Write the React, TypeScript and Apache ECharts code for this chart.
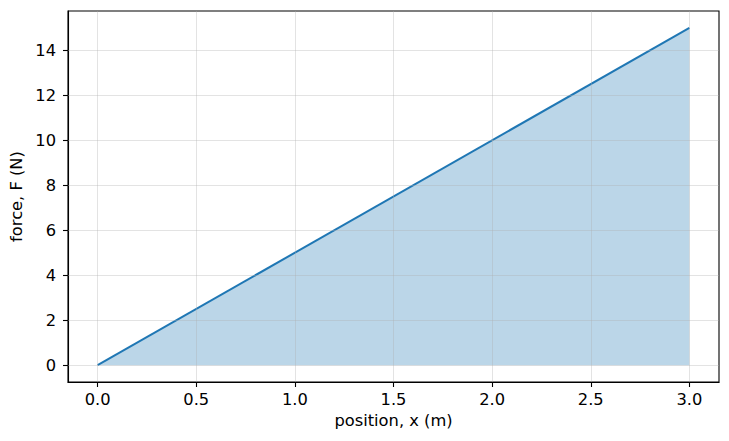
import React, { useEffect, useRef } from "react";
import * as echarts from "echarts";

const positions = [0, 3];
const forces = [0, 15];
const xTicks = [0, 0.5, 1, 1.5, 2, 2.5, 3];
const yTicks = [0, 2, 4, 6, 8, 10, 12, 14];

const FONT = "DejaVu Sans";
const FS = 16.3;

export default function App() {
  const ref = useRef<HTMLDivElement>(null);
  useEffect(() => {
    document.body.style.margin = "0";
    const chart = echarts.init(ref.current!, null, { renderer: "svg" });
    const gridLine = { color: "#b0b0b0", opacity: 0.35, width: 1, type: "solid" as const };
    chart.setOption({
      animation: false,
      backgroundColor: "#ffffff",
      grid: {
        left: 68,
        right: 10,
        top: 11,
        bottom: 59,
        show: true,
        borderColor: "#000000",
        borderWidth: 1.1,
        backgroundColor: "transparent",
      },
      xAxis: {
        type: "value",
        min: -0.15,
        max: 3.15,
        name: "position, x (m)",
        nameLocation: "middle",
        nameGap: 30,
        nameTextStyle: { fontFamily: FONT, fontSize: FS, color: "#000" },
        axisLine: { show: true, onZero: false, lineStyle: { color: "#000", width: 1.1 } },
        axisTick: { show: true, inside: false, length: 5, customValues: xTicks, lineStyle: { color: "#000", width: 1.1 } },
        axisLabel: {
          customValues: xTicks,
          formatter: (v: number) => v.toFixed(1),
          fontFamily: FONT,
          fontSize: FS,
          color: "#000",
          margin: 9,
        },
        splitLine: { show: false },
      },
      yAxis: {
        type: "value",
        min: -0.75,
        max: 15.75,
        name: "force, F (N)",
        nameLocation: "middle",
        nameGap: 41,
        nameTextStyle: { fontFamily: FONT, fontSize: FS, color: "#000" },
        axisLine: { show: true, onZero: false, lineStyle: { color: "#000", width: 1.1 } },
        axisTick: { show: true, inside: false, length: 5, customValues: yTicks, lineStyle: { color: "#000", width: 1.1 } },
        axisLabel: {
          customValues: yTicks,
          formatter: (v: number) => String(v),
          fontFamily: FONT,
          fontSize: FS,
          color: "#000",
          margin: 12,
        },
        splitLine: { show: false },
      },
      series: [
        {
          type: "line",
          data: positions.map((x, i) => [x, forces[i]]),
          showSymbol: false,
          symbol: "none",
          lineStyle: { color: "#1f77b4", width: 2 },
          areaStyle: { color: "#1f77b4", opacity: 0.3, origin: "auto" },
          z: 3,
          markLine: {
            silent: true,
            symbol: ["none", "none"],
            label: { show: false },
            lineStyle: gridLine,
            animation: false,
            data: [
              ...xTicks.map((v) => ({ xAxis: v })),
              ...yTicks.map((v) => ({ yAxis: v })),
            ],
          },
        },
      ],
    });
    return () => chart.dispose();
  }, []);
  return <div ref={ref} style={{ position: "absolute", left: 0, top: 0, width: 729, height: 441 }} />;
}
